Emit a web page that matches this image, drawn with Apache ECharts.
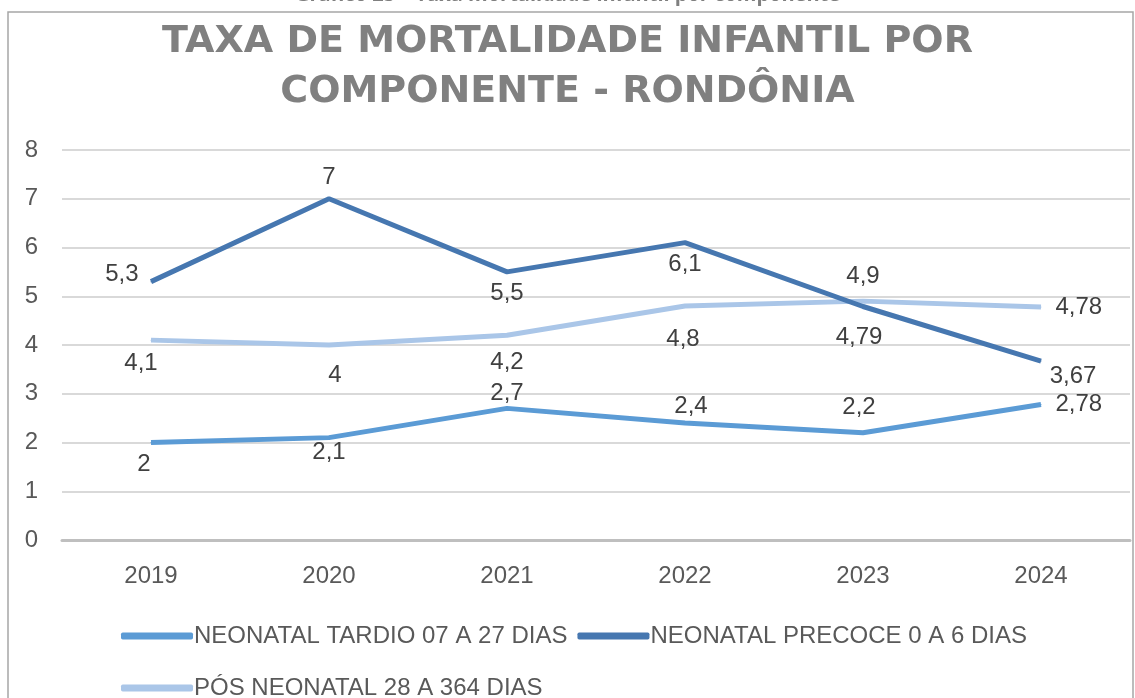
<!DOCTYPE html>
<html><head><meta charset="utf-8">
<script src="https://cdn.jsdelivr.net/npm/echarts@6/dist/echarts.min.js"></script>
<style>html,body{margin:0;padding:0;background:#fff}#c{width:1135px;height:698px}</style>
</head><body><div id="c"></div>
<script>
const categories = ['2019','2020','2021','2022','2023','2024'];
const tardio = [2, 2.1, 2.7, 2.4, 2.2, 2.78];
const precoce = [5.3, 7, 5.5, 6.1, 4.79, 3.67];
const pos = [4.1, 4, 4.2, 4.8, 4.9, 4.78];
const yTicks = [0,1,2,3,4,5,6,7,8];
const names = ['NEONATAL TARDIO 07 A 27 DIAS','NEONATAL PRECOCE 0 A 6 DIAS','PÓS NEONATAL 28 A 364 DIAS'];
const tardioPos = ['bottom','bottom','top','top','top','right'];
const precocePos = ['left','top','bottom','bottom','bottom','bottom'];
const posPos = ['bottom','bottom','bottom','bottom','top','right'];

const FONT = 'Liberation Sans';
const fmt = v => String(v).replace('.', ',');
function mk(vals, positions, extra){
  return vals.map((v,i)=>{
    const o = {value:v, label:{position:positions[i]}};
    if (extra && extra[i]) Object.assign(o.label, extra[i]);
    return o;
  });
}
const lbl = {show:true, fontFamily:FONT, fontSize:24, color:'#404040', distance:9,
  formatter:p=>fmt(p.value)};
const sym = {symbol:'circle', symbolSize:1, showSymbol:true, showAllSymbol:true};

const chart = echarts.init(document.getElementById('c'), null, {renderer:'canvas'});
chart.setOption({
  animation:false,
  backgroundColor:'#fff',
  graphic:[
    {type:'rect', shape:{x:8,y:12,width:1125,height:700}, style:{fill:'none', stroke:'#a6a6a6', lineWidth:1.5}, silent:true},
    {type:'text', left:'center', top:-15, style:{text:'Gráfico 25 – Taxa mortalidade infantil por componente', font:'bold 20px "Open Sans"', fill:'#7f7f7f'}}
  ],
  title:{text:'TAXA DE MORTALIDADE INFANTIL POR\nCOMPONENTE - RONDÔNIA', left:'center', top:12,
    textStyle:{fontFamily:'DejaVu Sans', fontWeight:'bold', fontSize:38, lineHeight:50, color:'#808080'}},
  grid:{left:62, right:5, top:150, bottom:158, containLabel:false},
  xAxis:{type:'category', data:categories, boundaryGap:true,
    axisLine:{lineStyle:{color:'#bfbfbf', width:3}}, axisTick:{show:false},
    axisLabel:{fontFamily:FONT, fontSize:24, color:'#595959', margin:24}},
  yAxis:{type:'value', min:0, max:8, interval:1,
    axisLine:{show:false}, axisTick:{show:false},
    axisLabel:{fontFamily:FONT, fontSize:24, color:'#595959', margin:24, formatter:v=>yTicks.includes(v)?String(v):''},
    splitLine:{lineStyle:{color:'#d9d9d9', width:2}}},
  legend:[
    {data:[names[0],names[1]], left:116, top:619, itemWidth:72, itemHeight:7, itemGap:10, icon:'roundRect',
      textStyle:{fontFamily:FONT, fontSize:24, color:'#595959', padding:[0,0,0,-4]}},
    {data:[names[2]], left:116, top:671, itemWidth:72, itemHeight:7, itemGap:10, icon:'roundRect',
      textStyle:{fontFamily:FONT, fontSize:24, color:'#595959', padding:[0,0,0,-4]}}
  ],
  series:[
    Object.assign({name:names[0], type:'line',
      data:mk(tardio, tardioPos, {0:{offset:[-7,0]}, 1:{offset:[0,-7]}, 2:{offset:[0,6]}, 3:{offset:[6,5]}, 4:{offset:[-4,-4]}, 5:{distance:14}}),
      lineStyle:{width:5, color:'#5b9bd5'}, itemStyle:{color:'#5b9bd5'}, label:lbl, z:3}, sym),
    Object.assign({name:names[1], type:'line',
      data:mk(precoce, precocePos, {0:{distance:6, offset:[-6,-7]}, 4:{distance:14, offset:[-4,4]}, 5:{offset:[32,-6]}}),
      lineStyle:{width:5, color:'#4677b0'}, itemStyle:{color:'#4677b0'}, label:lbl, z:2}, sym),
    Object.assign({name:names[2], type:'line',
      data:mk(pos, posPos, {0:{offset:[-10,2]}, 1:{offset:[6,9]}, 2:{offset:[0,6]}, 3:{offset:[-2,12]}, 4:{offset:[0,-3]}, 5:{distance:14}}),
      lineStyle:{width:5, color:'#aac6e8'}, itemStyle:{color:'#aac6e8'}, label:lbl, z:1}, sym)
  ]
});
</script></body></html>
